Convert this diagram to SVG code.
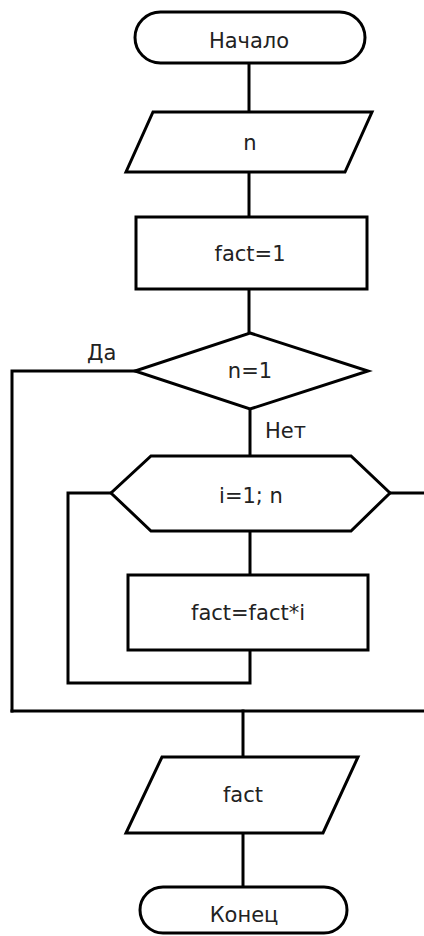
<svg xmlns="http://www.w3.org/2000/svg" width="424" height="936" viewBox="0 0 424 936">
<style>
.s{fill:#fff;stroke:#000;stroke-width:3;stroke-linejoin:miter}
.c{fill:none;stroke:#000;stroke-width:3;stroke-linejoin:miter;stroke-linecap:square}
.t{font-family:"DejaVu Sans",Verdana,sans-serif;font-size:21px;fill:#222;text-anchor:middle}
.l{font-family:"DejaVu Sans",Verdana,sans-serif;font-size:21px;fill:#222}
</style>
<rect width="424" height="936" fill="#fff"/>
<g id="connectors">
<path class="c" d="M249,63V112"/>
<path class="c" d="M249,172V217"/>
<path class="c" d="M249,289V333"/>
<path class="c" d="M250,409V456"/>
<path class="c" d="M135,371H12V711"/>
<path class="c" d="M111,493H68V683H250V650"/>
<path class="c" d="M250,531V575"/>
<path class="c" d="M390,493H426"/>
<path class="c" d="M12,711H426"/>
<path class="c" d="M243,711V757"/>
<path class="c" d="M243,833V887"/>
<text class="l" x="87" y="360">Да</text>
<text class="l" x="265" y="438">Нет</text>
</g>
<g id="start">
<rect class="s" x="135" y="12" width="230" height="51" rx="25.5"/>
<text class="t" x="249" y="48">Начало</text>
</g>
<g id="input_n">
<polygon class="s" points="153,112 372,112 345,172 126,172"/>
<text class="t" x="250" y="150">n</text>
</g>
<g id="fact1">
<rect class="s" x="136" y="217" width="231" height="72"/>
<text class="t" x="250" y="261">fact=1</text>
</g>
<g id="cond">
<polygon class="s" points="250,333 368,371 250,409 135,371"/>
<text class="t" x="250" y="378">n=1</text>
</g>
<g id="loop">
<polygon class="s" points="151,456 351,456 390,493 351,531 151,531 111,493"/>
<text class="t" x="251" y="503">i=1; n</text>
</g>
<g id="mult">
<rect class="s" x="128" y="575" width="240" height="75"/>
<text class="t" x="248" y="620">fact=fact*i</text>
</g>
<g id="output_fact">
<polygon class="s" points="162,757 358,757 323,833 126,833"/>
<text class="t" x="243" y="802">fact</text>
</g>
<g id="end">
<rect class="s" x="140" y="887" width="207" height="46" rx="23"/>
<text class="t" x="244" y="922">Конец</text>
</g>
</svg>
